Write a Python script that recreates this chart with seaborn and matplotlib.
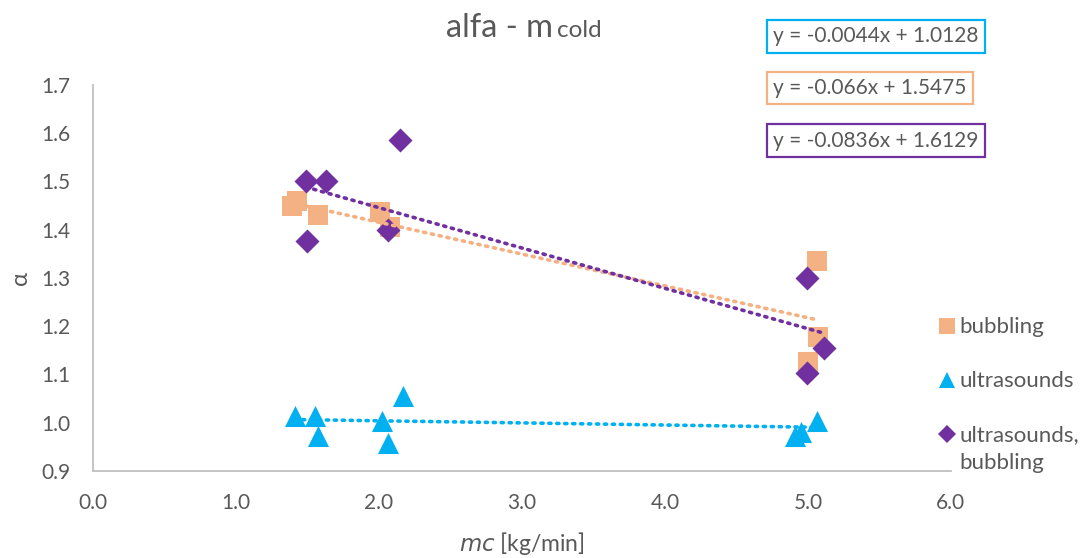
import numpy as np
import pandas as pd
import matplotlib
matplotlib.use("Agg")
import matplotlib.pyplot as plt
import seaborn as sns
from matplotlib.lines import Line2D

# Measurements: mass flow of cold water [kg/min] vs. alpha
bub_x = [1.39, 1.43, 1.57, 2.01, 2.08, 5.06, 5.07, 5.00]
bub_y = [1.450, 1.460, 1.430, 1.436, 1.405, 1.335, 1.178, 1.125]

us_x = [1.41, 1.55, 1.57, 2.02, 2.06, 2.17, 5.06, 4.95, 4.91]
us_y = [1.013, 1.013, 0.972, 1.003, 0.958, 1.055, 1.003, 0.980, 0.972]

usb_x = [1.49, 1.63, 1.50, 2.15, 2.06, 4.99, 5.11, 4.99]
usb_y = [1.502, 1.502, 1.376, 1.587, 1.399, 1.300, 1.154, 1.102]

series_names = ["bubbling", "ultrasounds", "ultrasounds,\nbubbling"]
colors = ["#F4B183", "#00B0F0", "#7030A0"]
markers = ["s", "^", "D"]

# Linear trend lines (slope, intercept)
trend_slope = [-0.066, -0.0044, -0.0836]
trend_icpt = [1.5475, 1.0128, 1.6129]

x_ticks = [0.0, 1.0, 2.0, 3.0, 4.0, 5.0, 6.0]
y_ticks = [0.9, 1.0, 1.1, 1.2, 1.3, 1.4, 1.5, 1.6, 1.7]

sns.set_theme(style="white")
plt.rcParams["font.family"] = ["Lato", "DejaVu Sans"]
grey = "#595959"
axis_grey = "#BFBFBF"

df = pd.concat([
    pd.DataFrame({"mc": bub_x, "alpha": bub_y, "series": series_names[0]}),
    pd.DataFrame({"mc": us_x, "alpha": us_y, "series": series_names[1]}),
    pd.DataFrame({"mc": usb_x, "alpha": usb_y, "series": series_names[2]}),
], ignore_index=True)

fig = plt.figure(figsize=(10.88, 5.58), dpi=100)
ax = fig.add_axes([0.0855, 0.156, 0.7885, 0.6917])

sizes = {series_names[0]: 210, series_names[1]: 230, series_names[2]: 150}
for name, col, mk in zip(series_names, colors, markers):
    sub = df[df["series"] == name]
    sns.scatterplot(data=sub, x="mc", y="alpha", color=col, marker=mk,
                    s=sizes[name], linewidth=0, ax=ax, legend=False, zorder=3)

# dotted trend lines
for name, col, m, b in zip(series_names, colors, trend_slope, trend_icpt):
    sub = df[df["series"] == name]
    xs = np.array([sub["mc"].min(), sub["mc"].max()])
    ax.plot(xs, m * xs + b, linestyle=(0, (0.6, 1.6)), color=col,
            linewidth=2.6, dash_capstyle="round", zorder=4)

ax.set_xlim(0, 6)
ax.set_ylim(0.9, 1.7)
ax.set_xticks(x_ticks)
ax.set_yticks(y_ticks)
ax.set_xticklabels([f"{v:.1f}" for v in x_ticks])
ax.set_yticklabels([f"{v:.1f}" for v in y_ticks])
ax.tick_params(axis="both", length=0, labelsize=15, colors=grey)
ax.tick_params(axis="y", pad=16)
ax.tick_params(axis="x", pad=16)
for s in ["top", "right"]:
    ax.spines[s].set_visible(False)
for s in ["bottom", "left"]:
    ax.spines[s].set_color(axis_grey)
    ax.spines[s].set_linewidth(1.3)

ax.set_xlabel(r"$\it{mc}$ [kg/min]", fontsize=16.5, color=grey, labelpad=12)
ax.set_ylabel("α", fontsize=17, color=grey, labelpad=8, rotation=90)

# title with subscript-style "cold"
fig.text(0.5083, 0.934, "alfa - m", fontsize=23.5, color=grey, ha="right", va="baseline")
fig.text(0.5115, 0.934, "cold", fontsize=17.5, color=grey, ha="left", va="baseline")

# legend (two-line label continued below its first line)
first_lines = [n.split("\n")[0] for n in series_names]
handles = [Line2D([0], [0], marker=mk, color="none", markerfacecolor=c,
                  markeredgewidth=0, markersize=ms)
           for mk, c, ms in zip(markers, colors, [12, 12, 9])]
leg = fig.legend(handles, first_lines, loc="upper left", bbox_to_anchor=(0.842, 0.467),
                 frameon=False, fontsize=16, labelcolor=grey, handletextpad=0.05,
                 handlelength=1.0, labelspacing=1.53)
fig.canvas.draw()
bb = leg.get_texts()[2].get_window_extent()
fig.text(bb.x0 / fig.bbox.width, (bb.y0 - 28) / fig.bbox.height,
         series_names[2].split("\n")[1], fontsize=16, color=grey,
         ha="left", va="bottom")

# trend-line equations
eq_pos = [(0.7105, 0.935), (0.7105, 0.842), (0.7105, 0.748)]
for (x, y), col, m, b in zip(eq_pos, [colors[1], colors[0], colors[2]],
                             [trend_slope[1], trend_slope[0], trend_slope[2]],
                             [trend_icpt[1], trend_icpt[0], trend_icpt[2]]):
    txt = f"y = {m:g}x + {b:g}"
    fig.text(x, y, txt, fontsize=15, color=grey, ha="left", va="center",
             bbox=dict(boxstyle="square,pad=0.3", facecolor="white",
                       edgecolor=col, linewidth=1.6))

fig.savefig("out.png", dpi=100)
